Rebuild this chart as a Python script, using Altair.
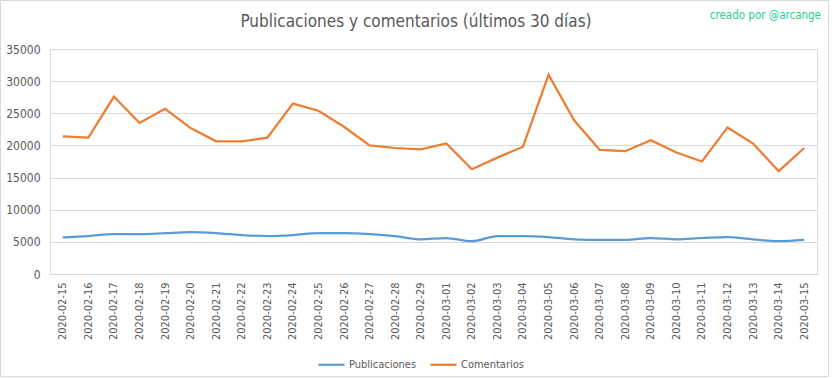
import altair as alt
import pandas as pd

dates = [
    "2020-02-15", "2020-02-16", "2020-02-17", "2020-02-18", "2020-02-19",
    "2020-02-20", "2020-02-21", "2020-02-22", "2020-02-23", "2020-02-24",
    "2020-02-25", "2020-02-26", "2020-02-27", "2020-02-28", "2020-02-29",
    "2020-03-01", "2020-03-02", "2020-03-03", "2020-03-04", "2020-03-05",
    "2020-03-06", "2020-03-07", "2020-03-08", "2020-03-09", "2020-03-10",
    "2020-03-11", "2020-03-12", "2020-03-13", "2020-03-14", "2020-03-15",
]
publicaciones = [
    5700, 5900, 6200, 6200, 6350, 6500, 6350, 6050, 5900, 6050,
    6350, 6350, 6200, 5900, 5400, 5600, 5100, 5900, 5900, 5750,
    5400, 5300, 5300, 5600, 5400, 5600, 5750, 5400, 5100, 5300,
]
comentarios = [
    21400, 21200, 27600, 23500, 25700, 22700, 20650, 20650, 21200, 26500,
    25400, 22900, 20000, 19600, 19400, 20300, 16300, 18100, 19800, 31000,
    23900, 19300, 19100, 20800, 18900, 17500, 22800, 20300, 16000, 19600,
]
series_names = ["Publicaciones", "Comentarios"]
series_colors = ["#5B9BD5", "#ED7D31"]
y_ticks = [0, 5000, 10000, 15000, 20000, 25000, 30000, 35000]

title_text = "Publicaciones y comentarios (últimos 30 días)"
credit_text = "creado por @arcange"

FONT = "Liberation Sans Narrow, DejaVu Sans Condensed, sans-serif"
GRAY = "#595959"
GRID = "#D9D9D9"

df = pd.DataFrame({
    "fecha": dates * 2,
    "serie": [series_names[0]] * len(dates) + [series_names[1]] * len(dates),
    "valor": publicaciones + comentarios,
})

W, H = 767, 225
PAD_L, PAD_T = 50, 49

x_enc = alt.X(
    "fecha:N", sort=None, title=None,
    scale=alt.Scale(type="point", padding=0.5),
    axis=alt.Axis(
        labelAngle=270, labelFont=FONT, labelFontSize=11, labelColor=GRAY,
        labelPadding=8, ticks=False, domain=True, domainColor=GRID,
        grid=False, labelAlign="right", labelBaseline="middle",
    ),
)
y_enc = alt.Y(
    "valor:Q", title=None,
    scale=alt.Scale(domain=[0, 35000], nice=False),
    axis=alt.Axis(
        values=y_ticks, format="d", labelFont=FONT, labelFontSize=12,
        labelColor=GRAY, labelPadding=10, ticks=False, domain=False,
        grid=True, gridColor=GRID, gridWidth=1,
    ),
)
color_enc = alt.Color(
    "serie:N",
    scale=alt.Scale(domain=series_names, range=series_colors),
    legend=alt.Legend(
        title=None, orient="none", direction="horizontal",
        legendX=267, legendY=301, symbolType="stroke", symbolSize=676,
        symbolStrokeWidth=2.25, labelFont=FONT, labelFontSize=11,
        labelColor=GRAY, columnPadding=9, labelOffset=3,
    ),
)

base = alt.Chart(df)
line_pub = base.transform_filter(alt.datum.serie == series_names[0]).mark_line(
    strokeWidth=2.25, interpolate="monotone"
).encode(x=x_enc, y=y_enc, color=color_enc)
line_com = base.transform_filter(alt.datum.serie == series_names[1]).mark_line(
    strokeWidth=2.25
).encode(x=x_enc, y=y_enc, color=color_enc)

title = alt.Chart(alt.Data(values=[{"t": title_text}])).mark_text(
    font=FONT, fontSize=17, color=GRAY, align="center", baseline="alphabetic"
).encode(text="t:N", x=alt.value(366), y=alt.value(-22))

credit = alt.Chart(alt.Data(values=[{"t": credit_text}])).mark_text(
    font=FONT, fontSize=11.5, color="#22D19F", align="right", baseline="alphabetic"
).encode(text="t:N", x=alt.value(771), y=alt.value(-30))

frame = alt.Chart(alt.Data(values=[{"a": 1}])).mark_rect(
    fill=None, stroke=GRID, strokeWidth=1
).encode(
    x=alt.value(-49.5), x2=alt.value(778.5),
    y=alt.value(-48.5), y2=alt.value(327.5),
)

chart = alt.layer(frame, line_pub, line_com, title, credit).properties(
    width=W, height=H,
    padding={"left": PAD_L, "top": PAD_T, "right": 832 - PAD_L - W, "bottom": 378 - PAD_T - H},
    autosize=alt.AutoSizeParams(type="none"),
).configure_view(stroke=None).configure(background="white")

chart.save("out.html", embed_options={"renderer": "svg", "actions": False})
